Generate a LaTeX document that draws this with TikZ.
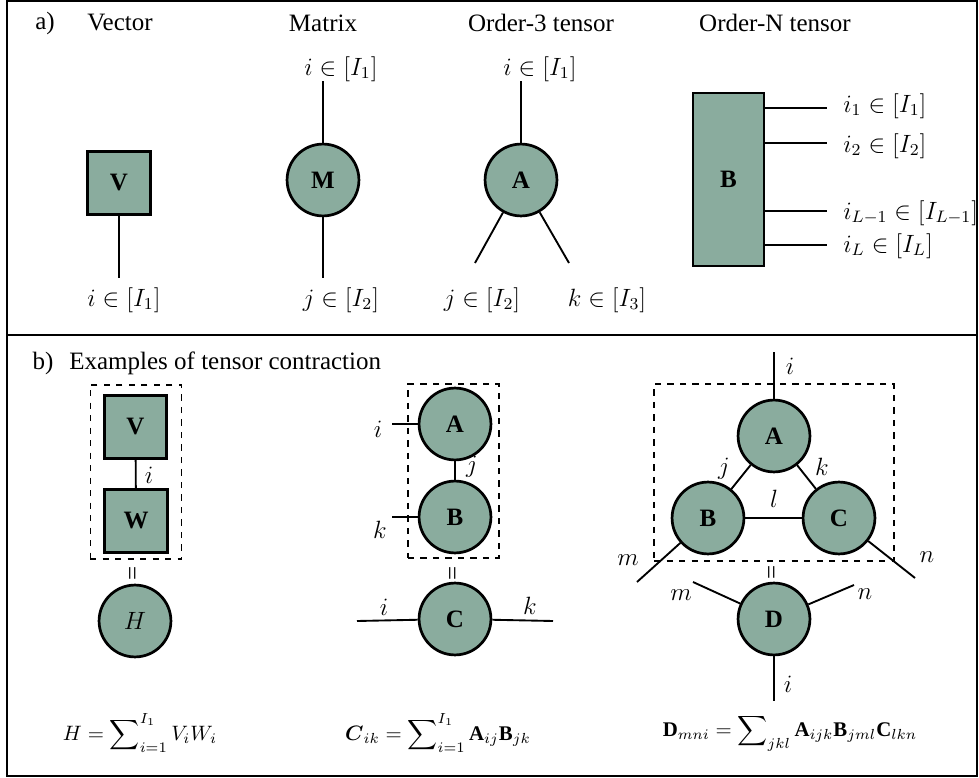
\documentclass[tikz,border=0pt]{standalone}
\usepackage{amsmath,amssymb}
\usepackage{fontspec}
\setmainfont{Liberation Serif}
\usepackage{tikz}
\definecolor{sage}{RGB}{138,172,158}

\begin{document}
\begin{tikzpicture}[
    x=0.48pt, y=-0.48pt,
    font=\large,
    tnode/.style={circle, draw, line width=1.3pt, fill=sage, minimum size=34.5pt, inner sep=0pt},
    tbox/.style={draw, line width=1.3pt, fill=sage, minimum size=30pt, inner sep=0pt},
    leg/.style={line width=0.9pt},
    grp/.style={draw, dashed, line width=0.6pt, inner sep=0pt},
    eqsign/.style={rotate=90, font=\large, inner sep=0pt},
    sumeq/.style={font=\normalsize}
]
\useasboundingbox (0,0) rectangle (979,778);
% Frame
\draw[line width=1pt] (7,1) rectangle (977,776);
\draw[line width=1pt] (7,335) -- (977,335);

% a) titles
\node (ta) at (45,23) {a)};
\node (tvec) at (120,23) {Vector};
\node (tmat) at (323,23) {Matrix};
\node (tord3) at (541,23) {Order-3 tensor};
\node (tordN) at (775,23) {Order-N tensor};

% Vector
\node[tbox] (V) at (119,183) {$\mathbf{V}$};
\coordinate (vend) at (119,278);
\draw[leg] (V) -- (vend);
\node (lv) at (124,300) {$i\in[I_1]$};

% Matrix
\node[tnode] (M) at (323,180) {$\mathbf{M}$};
\coordinate (mtop) at (323,81);
\coordinate (mbot) at (323,278);
\draw[leg] (M) -- (mtop);
\draw[leg] (M) -- (mbot);
\node (lmt) at (341,69) {$i\in[I_1]$};
\node (lmb) at (341,300) {$j\in[I_2]$};

% Order-3 tensor
\node[tnode] (A) at (521,180) {$\mathbf{A}$};
\coordinate (atop) at (521,81);
\coordinate (aleft) at (475,263);
\coordinate (aright) at (569,263);
\draw[leg] (A) -- (atop);
\draw[leg] (A) -- (aleft);
\draw[leg] (A) -- (aright);
\node (lat) at (540,69) {$i\in[I_1]$};
\node (lal) at (482,300) {$j\in[I_2]$};
\node (lar) at (607,300) {$k\in[I_3]$};

% Order-N tensor
\node[tbox, minimum width=34pt, minimum height=83pt] (B) at (728.5,179.5) {$\mathbf{B}$};
\foreach \y/\n in {108/1, 143/2, 211/3, 245/4} {
    \coordinate (bend\n) at (827,\y);
    \draw[leg] (B.east |- bend\n) -- (bend\n);
}
\node[anchor=west] (lb1) at (836,106) {$i_1\in[I_1]$};
\node[anchor=west] (lb2) at (836,146) {$i_2\in[I_2]$};
\node[anchor=west] (lb3) at (836,213) {$i_{L-1}\in[I_{L-1}]$};
\node[anchor=west] (lb4) at (836,246) {$i_L\in[I_L]$};

% b) title
\node (tb) at (43,363) {b)};
\node[anchor=west] (tex) at (62,363) {Examples of tensor contraction};

% Example 1: vector-vector
\node[tbox] (V1) at (135.5,427) {$\mathbf{V}$};
\node[tbox] (W1) at (136,521) {$\mathbf{W}$};
\draw[leg] (V1) -- (W1);
\node (li1) at (149,475) {$i$};
\node[grp, minimum width=44pt, minimum height=83.5pt] (grp1) at (136,472) {};
\node[tnode] (H1) at (135,621) {$H$};
\node[eqsign] (eq1) at (135,573) {=};
\node[sumeq] (sum1) at (140,733) {$\displaystyle H=\sum\nolimits_{i=1}^{I_1}V_iW_i$};

% Example 2: matrix-matrix
\node[tnode] (A2) at (455,424) {$\mathbf{A}$};
\node[tnode] (B2) at (455,517) {$\mathbf{B}$};
\draw[leg] (A2) -- (B2);
\coordinate (a2i) at (392,424);
\coordinate (b2k) at (392,517);
\draw[leg] (a2i) -- (A2);
\draw[leg] (b2k) -- (B2);
\node (li2) at (378,429) {$i$};
\node (lk2) at (380,530) {$k$};
\node (lj2) at (472,467) {$j$};
\node[grp, minimum width=43.7pt, minimum height=83.5pt] (grp2) at (453.5,471) {};
\node[eqsign] (eq2) at (455,573) {=};
\node[tnode] (C2) at (455,619) {$\mathbf{C}$};
\coordinate (c2i) at (357,621);
\coordinate (c2k) at (553,621);
\draw[leg] (c2i) -- (C2);
\draw[leg] (C2) -- (c2k);
\node (lci) at (384,607) {$i$};
\node (lck) at (530,606) {$k$};
\node[sumeq] (sum2) at (438,733) {$\displaystyle\boldsymbol{C}_{ik}=\sum\nolimits_{i=1}^{I_1}\mathbf{A}_{ij}\mathbf{B}_{jk}$};

% Example 3: triangle network
\node[tnode] (A3) at (774,436) {$\mathbf{A}$};
\node[tnode] (B3) at (708,518) {$\mathbf{B}$};
\node[tnode] (C3) at (839,518) {$\mathbf{C}$};
\draw[leg] (A3) -- (B3);
\draw[leg] (A3) -- (C3);
\draw[leg] (B3) -- (C3);
\coordinate (a3i) at (774,352);
\coordinate (b3m) at (637,582);
\coordinate (c3n) at (915,578);
\draw[leg] (A3) -- (a3i);
\draw[leg] (B3) -- (b3m);
\draw[leg] (C3) -- (c3n);
\node (li3) at (790,366) {$i$};
\node (lj3) at (724,469) {$j$};
\node (lk3) at (822,467) {$k$};
\node (ll3) at (774,499) {$l$};
\node (lm3) at (628,560) {$m$};
\node (ln3) at (927,557) {$n$};
\node[grp, minimum width=115.2pt, minimum height=85pt] (grp3) at (774,472.5) {};
\node[eqsign] (eq3) at (774,572) {=};
\node[tnode] (D3) at (774,619) {$\mathbf{D}$};
\coordinate (d3m) at (693,582);
\coordinate (d3n) at (854,585);
\coordinate (d3i) at (774,701);
\draw[leg] (D3) -- (d3m);
\draw[leg] (D3) -- (d3n);
\draw[leg] (D3) -- (d3i);
\node (lmd) at (681,595) {$m$};
\node (lnd) at (865,594) {$n$};
\node (lid) at (788,684) {$i$};
\node[sumeq] (sum3) at (790,733) {$\displaystyle\mathbf{D}_{mni}=\sum\nolimits_{jkl}\mathbf{A}_{ijk}\mathbf{B}_{jml}\mathbf{C}_{lkn}$};
\end{tikzpicture}
\end{document}
